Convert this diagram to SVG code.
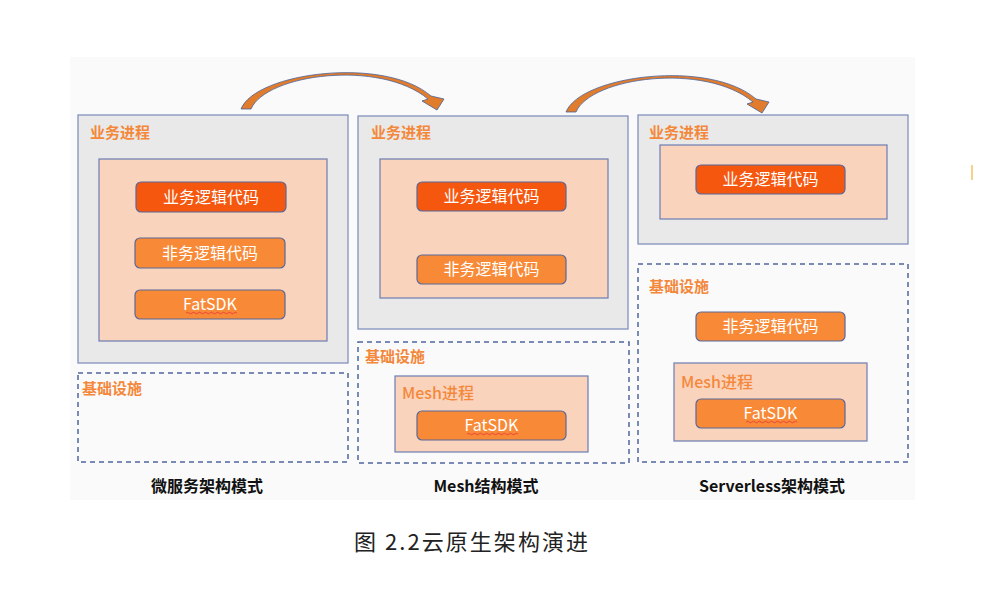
<svg xmlns="http://www.w3.org/2000/svg" width="1004" height="612" viewBox="0 0 1004 612">
<defs>
<style>
.bg{fill:#FAFAFA}
.proc{fill:#E9E9E9;stroke:#8393BF;stroke-width:1.3}
.peach{fill:#FAD3BD;stroke:#6C7DB3;stroke-width:1.2}
.infra{fill:none;stroke:#4F679F;stroke-width:1.5;stroke-dasharray:5 4}
.btnA{fill:#F5570F;stroke:#5A6899;stroke-width:1.2}
.btnB{fill:#F88A37;stroke:#5A6899;stroke-width:1.2}
.lbl{font-family:"Noto Sans CJK SC","Noto Sans",sans-serif;font-size:15px;font-weight:bold;fill:#F4883A}
.mesh{font-family:"Noto Sans CJK SC","Noto Sans",sans-serif;font-size:16px;font-weight:500;fill:#F4883A}
.btxt{font-family:"Noto Sans CJK SC","Noto Sans",sans-serif;font-size:16px;fill:#FFFFFF;text-anchor:middle}
.cap{font-family:"Noto Sans CJK SC","Noto Sans",sans-serif;font-size:16px;font-weight:bold;fill:#111111;text-anchor:middle}
.title{font-family:"Noto Sans CJK SC","Noto Sans",sans-serif;font-size:22px;fill:#222222}
.arrow{fill:#E07C2C;stroke:#4A5F95;stroke-width:0.8;stroke-linejoin:round}
.squig{fill:none;stroke:#E8333A;stroke-width:0.8}
</style>
<path id="arc" d="M 241 109 C 256 72, 385 56, 431 96 L 444 99 L 437 110 L 422 101 L 428 99 C 380 59, 266 74, 251 109 Z"/>
</defs>
<rect class="bg" x="70" y="57" width="845" height="443"/>

<g id="col1-process">
<rect class="proc" x="78" y="115" width="270" height="248"/>
<text class="lbl" x="90" y="138">业务进程</text>
<rect class="peach" x="99" y="159" width="228" height="182"/>
</g>
<g id="col1-biz">
<rect class="btnA" x="136" y="182" width="150" height="30" rx="5"/>
<text class="btxt" x="211" y="203">业务逻辑代码</text>
</g>
<g id="col1-nonbiz">
<rect class="btnB" x="135" y="238" width="150" height="30" rx="5"/>
<text class="btxt" x="210" y="259">非务逻辑代码</text>
</g>
<g id="col1-fatsdk">
<rect class="btnB" x="135" y="290" width="150" height="29" rx="5"/>
<text class="btxt" x="210" y="310">FatSDK</text>
<path class="squig" d="M186 313 q1.5 -1.5 3 0 t3 0 t3 0 t3 0 t3 0 t3 0 t3 0 t3 0 t3 0 t3 0 t3 0 t3 0 t3 0 t3 0 t3 0 t3 0 t3 0"/>
</g>
<g id="col1-infra">
<rect class="infra" x="78" y="373" width="270" height="89"/>
<text class="lbl" x="82" y="394">基础设施</text>
</g>
<g id="col1-caption"><text class="cap" x="207" y="492">微服务架构模式</text></g>

<g id="col2-process">
<rect class="proc" x="358" y="116" width="270" height="213"/>
<text class="lbl" x="371" y="138">业务进程</text>
<rect class="peach" x="380" y="159" width="228" height="139"/>
</g>
<g id="col2-biz">
<rect class="btnA" x="417" y="182" width="149" height="29" rx="5"/>
<text class="btxt" x="491.5" y="202">业务逻辑代码</text>
</g>
<g id="col2-nonbiz">
<rect class="btnB" x="417" y="255" width="149" height="29" rx="5"/>
<text class="btxt" x="491.5" y="275">非务逻辑代码</text>
</g>
<g id="col2-infra">
<rect class="infra" x="358" y="342" width="271" height="121"/>
<text class="lbl" x="365" y="362">基础设施</text>
</g>
<g id="col2-mesh">
<rect class="peach" x="395" y="376" width="193" height="76"/>
<text class="mesh" x="402" y="399">Mesh进程</text>
</g>
<g id="col2-fatsdk">
<rect class="btnB" x="417" y="411" width="149" height="29" rx="5"/>
<text class="btxt" x="491.5" y="431">FatSDK</text>
<path class="squig" d="M467 434 q1.5 -1.5 3 0 t3 0 t3 0 t3 0 t3 0 t3 0 t3 0 t3 0 t3 0 t3 0 t3 0 t3 0 t3 0 t3 0 t3 0 t3 0 t3 0"/>
</g>
<g id="col2-caption"><text class="cap" x="486" y="492">Mesh结构模式</text></g>

<g id="col3-process">
<rect class="proc" x="638" y="115" width="270" height="129"/>
<text class="lbl" x="649" y="138">业务进程</text>
<rect class="peach" x="660" y="145" width="227" height="74"/>
</g>
<g id="col3-biz">
<rect class="btnA" x="696" y="165" width="149" height="29" rx="5"/>
<text class="btxt" x="770.5" y="185">业务逻辑代码</text>
</g>
<g id="col3-infra">
<rect class="infra" x="638" y="264" width="270" height="198"/>
<text class="lbl" x="649" y="292">基础设施</text>
</g>
<g id="col3-nonbiz">
<rect class="btnB" x="696" y="312" width="149" height="29" rx="5"/>
<text class="btxt" x="770.5" y="332">非务逻辑代码</text>
</g>
<g id="col3-mesh">
<rect class="peach" x="674" y="363" width="193" height="78"/>
<text class="mesh" x="681" y="388">Mesh进程</text>
</g>
<g id="col3-fatsdk">
<rect class="btnB" x="696" y="399" width="149" height="29" rx="5"/>
<text class="btxt" x="770.5" y="419">FatSDK</text>
<path class="squig" d="M746 422 q1.5 -1.5 3 0 t3 0 t3 0 t3 0 t3 0 t3 0 t3 0 t3 0 t3 0 t3 0 t3 0 t3 0 t3 0 t3 0 t3 0 t3 0 t3 0"/>
</g>
<g id="col3-caption"><text class="cap" x="772" y="492">Serverless架构模式</text></g>

<g id="connectors">
<use href="#arc" class="arrow"/>
<use href="#arc" class="arrow" transform="translate(325,3)"/>
</g>

<line x1="972" y1="165" x2="972" y2="180" stroke="#F0A020" stroke-width="1"/>
<text class="title" x="354" y="550" textLength="234" lengthAdjust="spacing">图 2.2云原生架构演进</text>
</svg>
